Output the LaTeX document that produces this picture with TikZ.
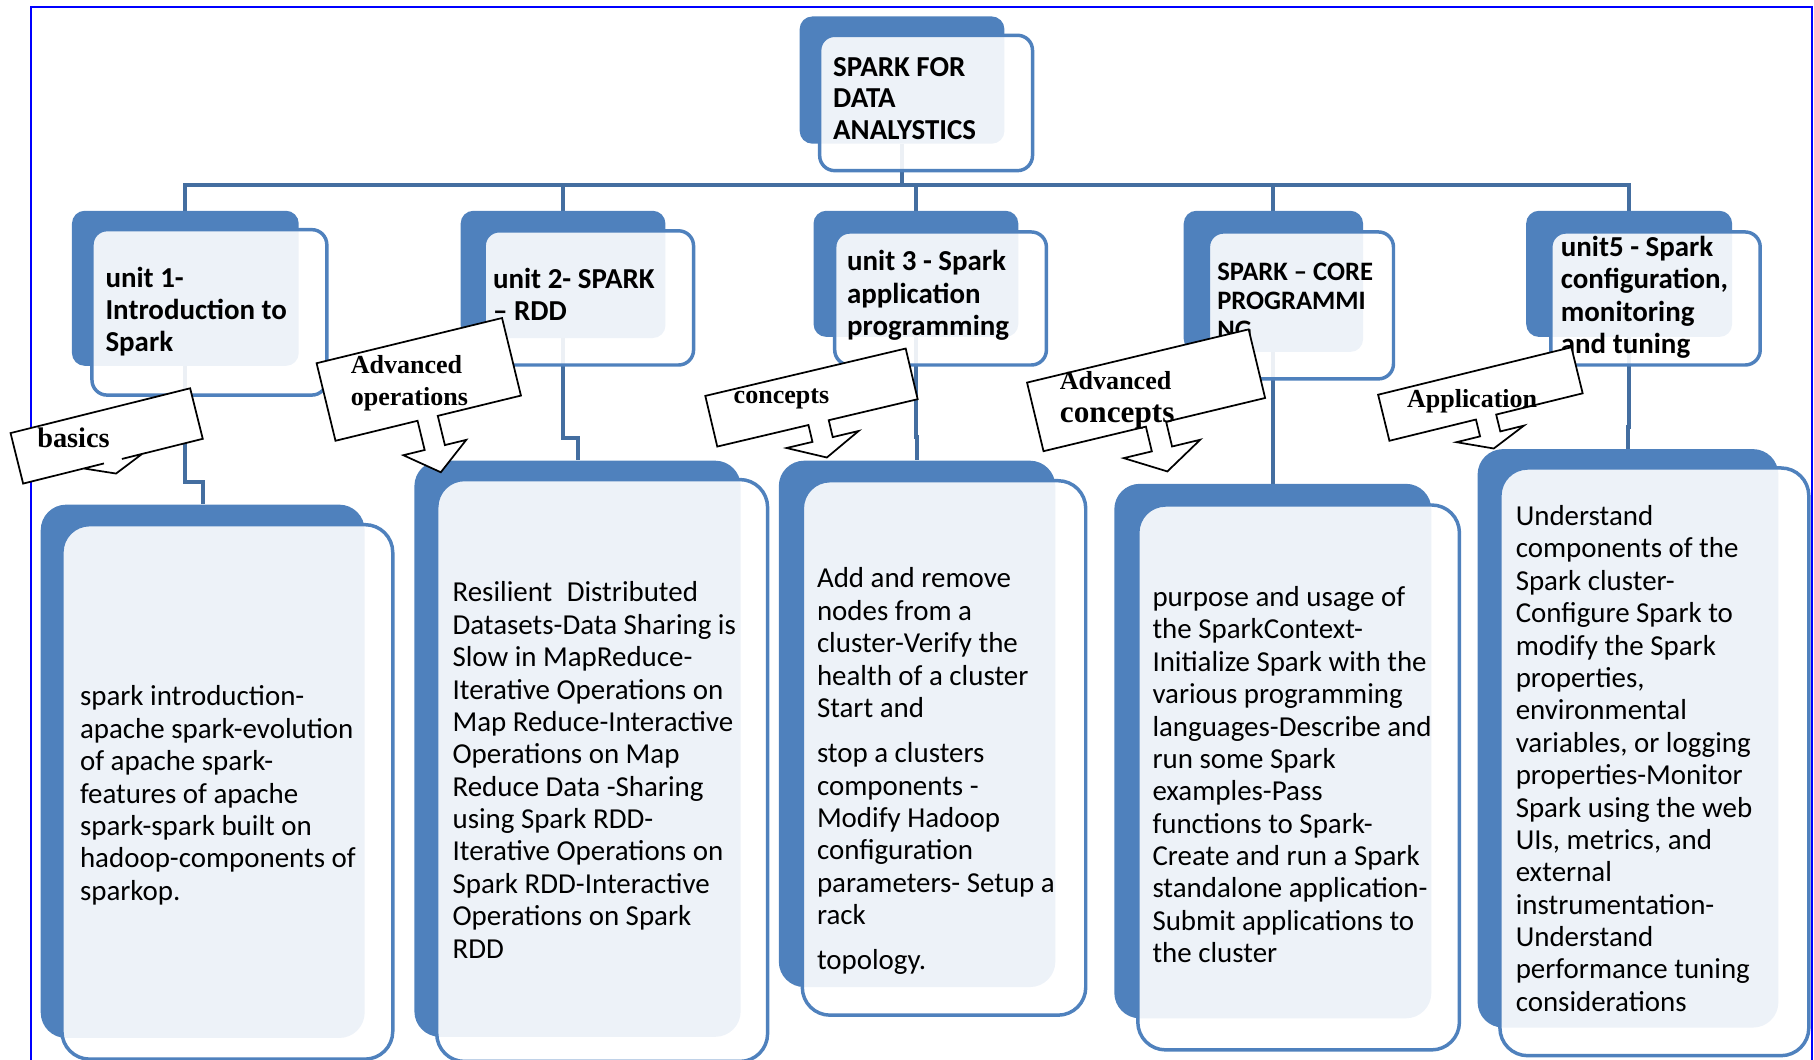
\documentclass[tikz,border=0pt]{standalone}
\usepackage{fontspec}
\setmainfont{Carlito}
\newfontfamily\tagfont{Liberation Serif}
\usetikzlibrary{backgrounds}

\definecolor{smartblue}{RGB}{79,129,189}
\definecolor{linkblue}{RGB}{68,110,160}

\tikzset{
  backbox/.style={fill=smartblue, rounded corners=10pt, inner sep=0pt, anchor=north west},
  frontbox/.style={draw=smartblue, line width=3pt, fill=white, fill opacity=0.9,
    rounded corners=12pt, inner sep=0pt, anchor=north west},
  link/.style={draw=linkblue, line width=3.5pt},
  headtext/.style={font=\fontsize{25}{28}\selectfont\bfseries, align=left,
    anchor=north west, inner sep=0pt},
  bodytext/.style={font=\fontsize{25}{28}\selectfont, align=left,
    anchor=north west, inner sep=0pt},
  tagtext/.style={font=\tagfont\bfseries\fontsize{22.5}{27}\selectfont, align=left,
    anchor=north west, inner sep=0pt},
  callout/.style={draw=black, fill=white, line width=1.5pt}
}

\begin{document}
\begin{tikzpicture}[x=1pt, y=-1pt]
    \useasboundingbox (0,0) rectangle (1568,916);

    % back and front boxes
    \foreach \n/\r/\x/\y/\w/\h/\X/\Y/\W/\H in {
        ttl/11/691/14/177/110/707/29/184/117,
        u1/11/62/182/196/134/78/197/203/143,
        u2/11/398/182/177/110/417/198/181/116,
        u3/11/703/182/177/109/720/199/183/115,
        u4/11/1023/182/155/122/1043/199/160/127,
        u5/11/1319/182/178/109/1339/199/181/115,
        d1/22/35/436/280/461/52/452/286/462,
        d2/22/358/398/282/498/376/413/286/503,
        d3/22/673/398/239/455/692/414/245/462,
        d4/22/963/418/274/462/982/435/278/471,
        d5/22/1277/388/260/500/1295/403/267/508}{
            \node[backbox, rounded corners=\r, minimum width=\w, minimum height=\h]
                (b\n) at (\x,\y) {};
            \node[frontbox, rounded corners=\r+2, minimum width=\W, minimum height=\H]
                (\n) at (\X,\Y) {};
        }

    % frame and connectors
    \begin{scope}[on background layer]
        \draw[blue, line width=2pt] (27,6) rectangle (1566,925);
        \coordinate (bus) at (bttl.south |- 0,160);
        \draw[link] (bttl.south) -- (bus);
        \foreach \i/\j in {1/417,2/379,3/378,4/400,5/369}{
                \draw[link] (bus) -| (bu\i.north);
                \draw[link] (bu\i.south) |- (bd\i.north |- 0,\j) -- (bd\i.north);
            }
    \end{scope}

    % titles
    \node[headtext, font=\fontsize{25}{27.4}\selectfont\bfseries] (title) at (720,46.5)
        {\strut SPARK FOR\\DATA\\ANALYSTICS};
    \node[headtext] (unit1) at (91,228.4) {\strut unit 1-\\Introduction to\\Spark};
    \node[headtext] (unit2) at (426,229.4) {\strut unit 2- SPARK\\– RDD};
    \node[headtext] (unit3) at (732,214.4) {\strut unit 3 - Spark\\application\\programming};
    \node[headtext, font=\fontsize{23}{25}\selectfont\bfseries] (unit4) at (1052,225)
        {\strut SPARK – CORE\\PROGRAMMI\\NG};
    \node[headtext] (unit5) at (1349,201.7)
        {\strut unit5 - Spark\\configuration,\\monitoring\\and tuning};

    % descriptions
    \node[bodytext] (desc1) at (69,590.4) {\strut spark introduction-\\apache spark-evolution\\
        of apache spark-\\features of apache\\spark-spark built on\\hadoop-components of\\sparkop.};
    \node[bodytext] (desc2) at (391,500.4) {\strut Resilient\enskip Distributed\\
        Datasets-Data Sharing is\\Slow in MapReduce-\\Iterative Operations on\\
        Map Reduce-Interactive\\Operations on Map\\Reduce Data -Sharing\\using Spark RDD-\\
        Iterative Operations on\\Spark RDD-Interactive\\Operations on Spark\\RDD};
    \node[bodytext] (desc3) at (706,488.4) {\strut Add and remove\\nodes from a\\
        cluster-Verify the\\health of a cluster\\Start and\\[11pt]stop a clusters\\
        components -\\Modify Hadoop\\configuration\\parameters- Setup a\\rack\\[11pt]topology.};
    \node[bodytext] (desc4) at (996,504.4) {\strut purpose and usage of\\the SparkContext-\\
        Initialize Spark with the\\various programming\\languages-Describe and\\
        run some Spark\\examples-Pass\\functions to Spark-\\Create and run a Spark\\
        standalone application-\\Submit applications to\\the cluster};
    \node[bodytext] (desc5) at (1310,434.4) {\strut Understand\\components of the\\
        Spark cluster-\\Configure Spark to\\modify the Spark\\properties,\\environmental\\
        variables, or logging\\properties-Monitor\\Spark using the web\\UIs, metrics, and\\
        external\\instrumentation-\\Understand\\performance tuning\\considerations};

    % arrow callouts
    \foreach \bx/\by/\ang/\w/\h/\c/\s/\a/\la/\lb in {
        20/418/14/160/45/80/8/26/0/11,
        290/381/13.7/165/69/82/9/28/26/22,
        620/386/13.3/178/45/90/9/32/15/16,
        902/390/13.5/197/61/100/9/34/22/20,
        1201/381/13.8/172/41/86/9/30/15/13}{
            \draw[callout, shift={(\bx,\by)}, rotate=\ang]
            (0,0) -- (\c-\s,0) -- (\c-\s,\la) -- (\c-\a,\la) -- (\c,\la+\lb)
            -- (\c+\a,\la) -- (\c+\s,\la) -- (\c+\s,0) -- (\w,0) -- (\w,-\h)
            -- (0,-\h) -- cycle;
        }
    \node[tagtext, font=\tagfont\bfseries\fontsize{24.5}{27}\selectfont] (tag1) at (32,368)
        {\strut basics};
    \node[tagtext] (tag2) at (303,304) {\strut Advanced\\operations};
    \node[tagtext] (tag3) at (634,329.7) {\strut concepts};
    \node[tagtext] (tag4) at (916,317.5)
        {\strut Advanced\\[1.4pt]{\fontsize{27}{29}\selectfont concepts}};
    \node[tagtext] (tag5) at (1216,332.7) {\strut Application};
\end{tikzpicture}
\end{document}
